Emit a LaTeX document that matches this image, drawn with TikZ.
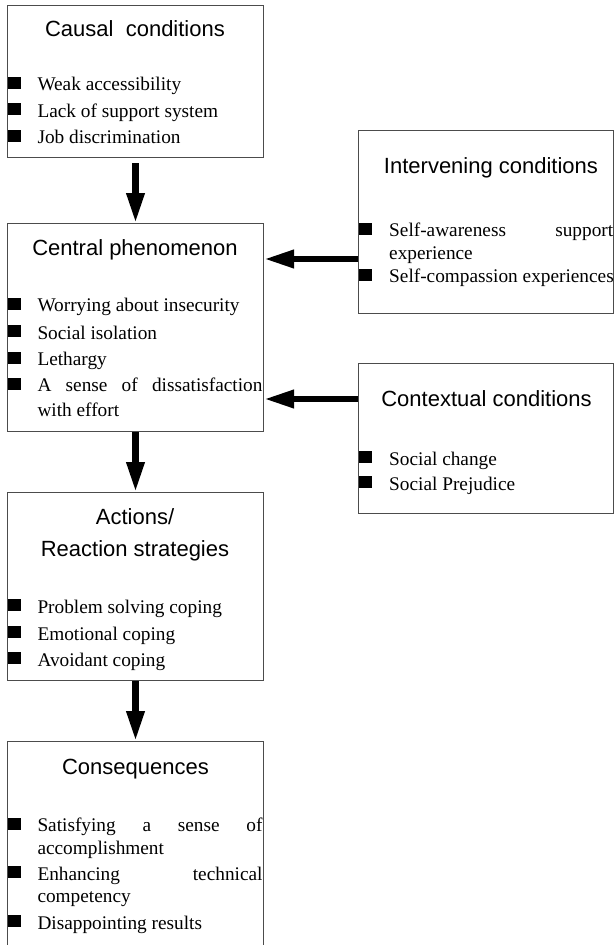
\documentclass[tikz,border=0pt]{standalone}
\usepackage{fontspec}
\setmainfont{Liberation Serif}
\newfontfamily\titlefont{Liberation Sans}
\usetikzlibrary{arrows.meta}
\begin{document}
\begin{tikzpicture}[x=1pt,y=-1pt,
  box/.style={draw=black!70, line width=1pt, rectangle, inner sep=0pt, anchor=north west},
  ttl/.style={font=\titlefont\fontsize{22}{26}\selectfont, anchor=base, inner sep=0pt},
  itm/.style={font=\fontsize{19.3}{23}\selectfont, anchor=base west, inner sep=0pt},
  bul/.style={fill=black, rectangle, inner sep=0pt, minimum width=13pt, minimum height=12pt, anchor=south west},
  arr/.style={line width=6.5pt, -{Triangle[length=30pt,width=17pt]}}]
\clip (0,0) rectangle (614,945);
\useasboundingbox (0,0) rectangle (614,945);
\fill[white] (0,0) rectangle (614,945);

% boxes
\node[box, minimum width=256pt, minimum height=152pt] (causal) at (7,5) {};
\node[box, minimum width=256pt, minimum height=208pt] (central) at (7,223) {};
\node[box, minimum width=256pt, minimum height=188pt] (actions) at (7,492) {};
\node[box, minimum width=256pt, minimum height=230pt] (conseq) at (7,741) {};
\node[box, minimum width=255pt, minimum height=183pt] (interv) at (358,130) {};
\node[box, minimum width=255pt, minimum height=150pt] (context) at (358,363) {};

% titles
\node[ttl] (t1) at (135,36) {Causal\ \ conditions};
\node[ttl] (t2) at (135,255.7) {Central phenomenon};
\node[ttl] (t3a) at (135,524) {Actions/};
\node[ttl] (t3b) at (135,556) {Reaction strategies};
\node[ttl] (t4) at (135.5,774) {Consequences};
\node[ttl] (t5) at (491,173.3) {Intervening conditions};
\node[ttl] (t6) at (486.5,406.7) {Contextual conditions};

% causal items
\node[bul] (b11) at (8,89.3) {};
\node[itm] (i11) at (37.3,90.7) {Weak accessibility};
\node[bul] (b12) at (8,115.6) {};
\node[itm] (i12) at (37.3,117) {Lack of support system};
\node[bul] (b13) at (8,141.9) {};
\node[itm] (i13) at (37.3,143.3) {Job discrimination};

% central items
\node[bul] (b21) at (8,310.3) {};
\node[itm] (i21) at (37.3,311.7) {Worrying about insecurity};
\node[bul] (b22) at (8,337.6) {};
\node[itm] (i22) at (37.3,339) {Social isolation};
\node[bul] (b23) at (8,364.3) {};
\node[itm] (i23) at (37.3,365.7) {Lethargy};
\node[bul] (b24) at (8,390.3) {};
\node[itm] (i24) at (37.3,391.7) {\hbox to 225pt{A\hfil sense\hfil of\hfil dissatisfaction}};
\node[itm] (i24b) at (37.3,416) {with effort};

% actions items
\node[bul] (b31) at (8,611.6) {};
\node[itm] (i31) at (37.3,613) {Problem solving coping};
\node[bul] (b32) at (8,638.6) {};
\node[itm] (i32) at (37.3,640) {Emotional coping};
\node[bul] (b33) at (8,664.6) {};
\node[itm] (i33) at (37.3,666) {Avoidant coping};

% consequences items
\node[bul] (b41) at (8,830.3) {};
\node[itm] (i41) at (37.3,831.7) {\hbox to 225pt{Satisfying\hfil a\hfil sense\hfil of}};
\node[itm] (i41b) at (37.3,854) {accomplishment};
\node[bul] (b42) at (8,878.6) {};
\node[itm] (i42) at (37.3,880) {\hbox to 225pt{Enhancing\hfil technical}};
\node[itm] (i42b) at (37.3,902.7) {competency};
\node[bul] (b43) at (8,927.6) {};
\node[itm] (i43) at (37.3,929) {Disappointing results};

% intervening items
\node[bul] (b51) at (358.7,235.3) {};
\node[itm] (i51) at (389,236.7) {\hbox to 224pt{Self-awareness\hfil support}};
\node[itm] (i51b) at (389,259.3) {experience};
\node[bul] (b52) at (358.7,281.3) {};
\node[itm] (i52) at (389,282.7) {Self-compassion experiences};

% contextual items
\node[bul] (b61) at (358.7,463.6) {};
\node[itm] (i61) at (389,465) {Social change};
\node[bul] (b62) at (358.7,488.6) {};
\node[itm] (i62) at (389,490) {Social Prejudice};

% arrows
\coordinate (h1) at (358,259);
\coordinate (h2) at (358,399);
\draw[arr] ([yshift=-5pt]causal.south) -- (central.north);
\draw[arr] (central.south) -- (actions.north);
\draw[arr] (actions.south) -- (conseq.north);
\draw[arr] (h1) -- (central.east |- h1);
\draw[arr] (h2) -- (central.east |- h2);
\end{tikzpicture}
\end{document}
